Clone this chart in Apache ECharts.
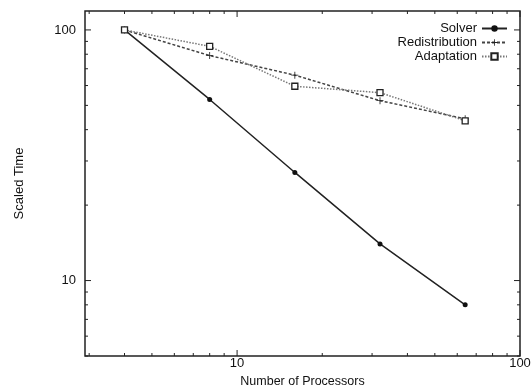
<!DOCTYPE html>
<html><head><meta charset="utf-8">
<script src="https://cdn.jsdelivr.net/npm/echarts@6/dist/echarts.min.js"></script>
<style>html,body{margin:0;padding:0;background:#fff}#c{width:531px;height:385px}</style>
</head><body><div id="c"></div>
<script>
const processors = [4, 8, 16, 32, 64];
const solver = [100, 52.8, 27, 14.0, 8.0];
const redistribution = [100, 79, 66, 52.2, 44.2];
const adaptation = [100, 86, 59.6, 56.2, 43.4];
const xTicks = [3,4,5,6,7,8,9,10,20,30,40,50,60,70,80,90,100];
const yTicks = [5,6,7,8,9,10,20,30,40,50,60,70,80,90,100];
const majorTicks = [10, 100];
const xRange = [2.9, 100];
const yRange = [5, 119];

const pair = (xs, ys) => xs.map((x, i) => [x, ys[i]]);
const font = '"Liberation Sans", Arial, sans-serif';
const chart = echarts.init(document.getElementById('c'), null, {renderer: 'canvas'});

function isMajor(v){ return majorTicks.some(m => Math.abs(m - v) < 1e-6); }

chart.setOption({
  animation: false,
  backgroundColor: '#fff',
  grid: {left: 85, right: 11, top: 11, bottom: 29, containLabel: false, outerBoundsMode: 'none',
    show: true, borderColor: '#222', borderWidth: 1.5, backgroundColor: 'transparent'},
  legend: {
    data: ['Solver', 'Redistribution', 'Adaptation'],
    orient: 'vertical', align: 'right', right: 18, top: 17,
    itemWidth: 25, itemHeight: 8, itemGap: 1,
    textStyle: {fontFamily: font, fontSize: 13, color: '#111', lineHeight: 11}
  },
  xAxis: {
    type: 'log', logBase: 10, min: xRange[0], max: xRange[1],
    name: 'Number of Processors', nameLocation: 'middle', nameGap: 13,
    nameTextStyle: {fontFamily: font, fontSize: 12.5, color: '#111'},
    axisLine: {show: false}, axisTick: {show: false}, splitLine: {show: false},
    axisLabel: {fontFamily: font, fontSize: 13, color: '#111', margin: 1, showMinLabel: true, hideOverlap: false,
      formatter: v => isMajor(v) ? String(Math.round(v)) : ''}
  },
  yAxis: {
    type: 'log', logBase: 10, min: yRange[0], max: yRange[1],
    name: 'Scaled Time', nameLocation: 'middle', nameGap: 59, nameRotate: 90,
    nameTextStyle: {fontFamily: font, fontSize: 13, color: '#111'},
    axisLine: {show: false}, axisTick: {show: false}, splitLine: {show: false},
    axisLabel: {fontFamily: font, fontSize: 13, color: '#111', margin: 9,
      formatter: v => isMajor(v) ? String(Math.round(v)) : ''}
  },
  series: [
    {
      name: 'Solver', type: 'line', data: pair(processors, solver),
      symbol: 'circle', symbolSize: 5,
      lineStyle: {color: '#222', width: 1.5, type: 'solid'},
      itemStyle: {color: '#111'}
    },
    {
      name: 'Redistribution', type: 'line', data: pair(processors, redistribution),
      symbol: 'path://M4.4,0h1.2v4.4h4.4v1.2h-4.4v4.4h-1.2v-4.4h-4.4v-1.2h4.4z', symbolSize: 7,
      lineStyle: {color: '#444', width: 1.5, type: [3, 2]},
      itemStyle: {color: '#222'}
    },
    {
      name: 'Adaptation', type: 'line', data: pair(processors, adaptation),
      symbol: 'rect', symbolSize: 6,
      lineStyle: {color: '#777', width: 1.5, type: [1.5, 1.5]},
      itemStyle: {color: '#fff', borderColor: '#222', borderWidth: 1.3}
    },
    {
      name: 'ticks', type: 'custom', silent: true, z: 1,
      data: [[10, 10]],
      renderItem: function(params, api){
        const cs = params.coordSys;
        const children = [];
        const st = {stroke: '#222', lineWidth: 1};
        xTicks.forEach(v => {
          const px = api.coord([v, yRange[0]])[0];
          const len = isMajor(v) ? 6 : 3;
          children.push({type: 'line', shape: {x1: px, y1: cs.y + cs.height, x2: px, y2: cs.y + cs.height - len}, style: st});
          children.push({type: 'line', shape: {x1: px, y1: cs.y, x2: px, y2: cs.y + len}, style: st});
        });
        yTicks.forEach(v => {
          const py = api.coord([xRange[0], v])[1];
          const len = isMajor(v) ? 6 : 3;
          children.push({type: 'line', shape: {x1: cs.x, y1: py, x2: cs.x + len, y2: py}, style: st});
          children.push({type: 'line', shape: {x1: cs.x + cs.width, y1: py, x2: cs.x + cs.width - len, y2: py}, style: st});
        });
        return {type: 'group', children: children};
      }
    }
  ]
});
</script></body></html>
